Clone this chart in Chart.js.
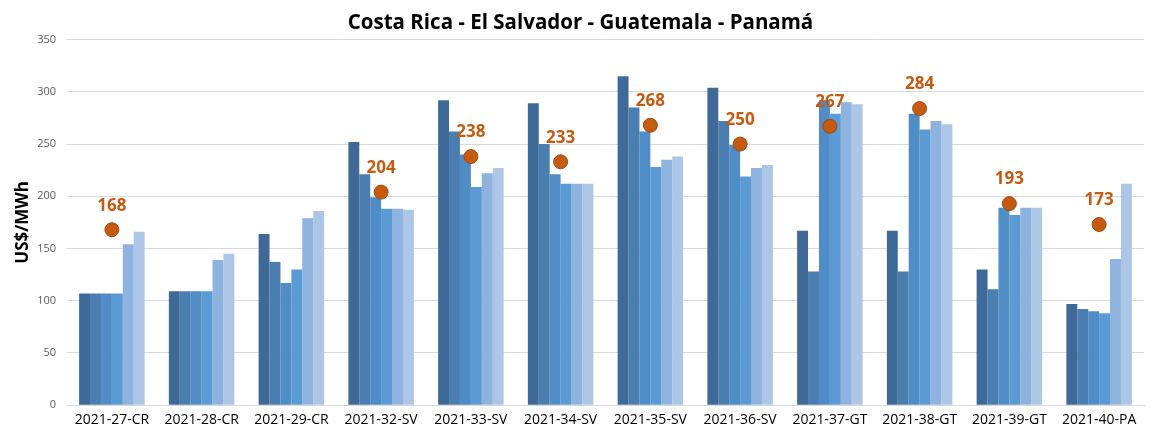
<!DOCTYPE html>
<html>
<head>
<meta charset="utf-8">
<script src="https://cdn.jsdelivr.net/npm/chart.js@4/dist/chart.umd.min.js"></script>
<style>
  html, body { margin: 0; padding: 0; background: #fff; }
  #wrap { width: 1152px; height: 434px; }
</style>
</head>
<body>
<div id="wrap"><canvas id="chart" width="1152" height="434"></canvas></div>
<script>
// Categories (week-country)
const labels = ['2021-27-CR', '2021-28-CR', '2021-29-CR', '2021-32-SV', '2021-33-SV', '2021-34-SV',
  '2021-35-SV', '2021-36-SV', '2021-37-GT', '2021-38-GT', '2021-39-GT', '2021-40-PA'];

// Six bar series
const s1 = [107, 109, 164, 252, 292, 289, 315, 304, 167, 167, 130, 97];
const s2 = [107, 109, 137, 221, 262, 250, 285, 272, 128, 128, 111, 92];
const s3 = [107, 109, 117, 199, 240, 221, 262, 249, 292, 279, 189, 90];
const s4 = [107, 109, 130, 188, 209, 212, 228, 219, 279, 264, 182, 88];
const s5 = [154, 139, 179, 188, 222, 212, 235, 227, 290, 272, 189, 140];
const s6 = [166, 145, 186, 187, 227, 212, 238, 230, 288, 269, 189, 212];

// Orange marker values
const points = [168, null, null, 204, 238, 233, 268, 250, 267, 284, 193, 173];

const barColors = ['#3F6A97', '#4A7DB0', '#508CC5', '#5B9BD5', '#8DB3DE', '#ADC6E6'];
const barSeries = [s1, s2, s3, s4, s5, s6];

// Draw the value labels above the orange markers
const pointLabelPlugin = {
  id: 'pointLabels',
  afterDatasetsDraw(chart) {
    const idx = chart.data.datasets.length - 1;
    const meta = chart.getDatasetMeta(idx);
    const ctx = chart.ctx;
    ctx.save();
    ctx.font = 'bold 17px "Open Sans", sans-serif';
    ctx.fillStyle = '#C55A11';
    ctx.textAlign = 'center';
    ctx.textBaseline = 'middle';
    meta.data.forEach((el, i) => {
      const v = chart.data.datasets[idx].data[i];
      if (v == null) return;
      ctx.fillText(String(v), el.x, el.y - 24);
    });
    ctx.restore();
  }
};

new Chart(document.getElementById('chart'), {
  type: 'bar',
  plugins: [pointLabelPlugin],
  data: {
    labels: labels,
    datasets: [
      ...barSeries.map((s, i) => ({
        type: 'bar',
        data: s,
        backgroundColor: barColors[i],
        borderWidth: 0,
        barPercentage: 1,
        categoryPercentage: 0.73,
        order: 2
      })),
      {
        type: 'line',
        data: points,
        showLine: false,
        pointRadius: 7,
        pointBackgroundColor: '#C55A11',
        pointBorderColor: '#9E4A12',
        pointBorderWidth: 1,
        order: 1
      }
    ]
  },
  options: {
    responsive: false,
    animation: false,
    layout: { padding: { left: 13, right: 4, top: 0, bottom: 0 } },
    plugins: {
      legend: { display: false },
      tooltip: { enabled: false },
      title: {
        display: true,
        text: 'Costa Rica - El Salvador - Guatemala - Panamá',
        color: '#000',
        font: { family: '"Open Sans", sans-serif', size: 20.5, weight: 'bold' },
        padding: { top: 11, bottom: 4 }
      }
    },
    scales: {
      x: {
        grid: { display: false, drawTicks: false },
        border: { color: '#D9D9D9', width: 1 },
        ticks: {
          color: '#000',
          font: { family: '"Open Sans", sans-serif', size: 14 },
          padding: 6,
          maxRotation: 0,
          autoSkip: false
        }
      },
      y: {
        min: 0,
        max: 350,
        afterFit: (scale) => { scale.width = 54; },
        ticks: {
          stepSize: 50,
          color: '#595959',
          font: { family: '"Open Sans", sans-serif', size: 11 },
          padding: 11
        },
        grid: { color: '#D9D9D9', drawTicks: false },
        border: { display: false },
        title: {
          display: true,
          text: 'US$/MWh',
          color: '#000',
          font: { family: '"Open Sans", sans-serif', size: 17, weight: 'bold' },
          padding: { top: 0, bottom: 4 }
        }
      }
    }
  }
});
</script>
</body>
</html>
